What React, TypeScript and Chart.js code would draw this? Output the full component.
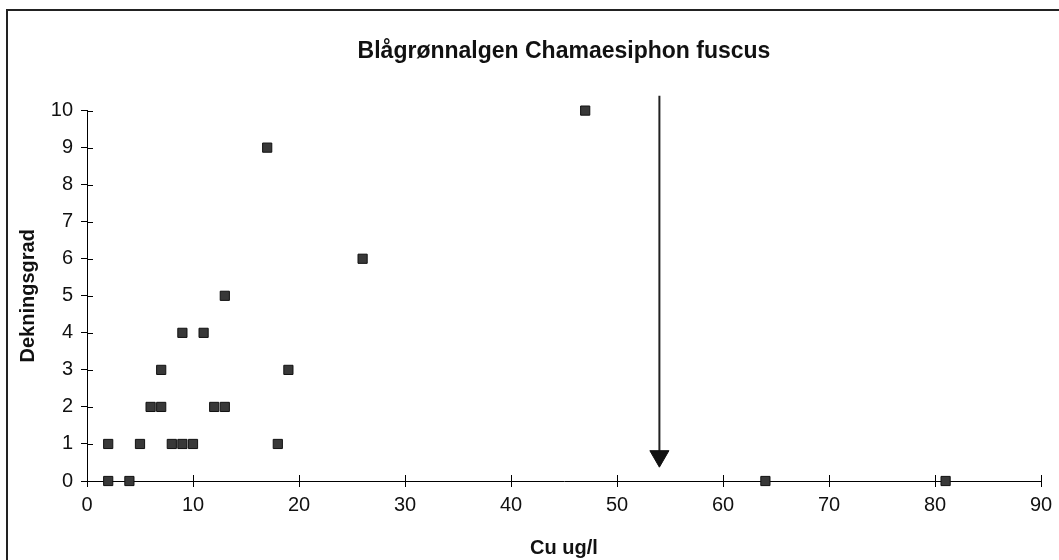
import React, { useEffect, useRef } from "react";
import { Chart, registerables } from "chart.js";

Chart.register(...registerables);

const TITLE = "Blågrønnalgen Chamaesiphon fuscus";
const X_TITLE = "Cu ug/l";
const Y_TITLE = "Dekningsgrad";

// Cu concentrations (ug/l) and coverage grade
const cuValues = [2, 4, 2, 5, 6, 7, 7, 8, 9, 10, 9, 11, 12, 13, 13, 17, 18, 19, 26, 47, 64, 81];
const coverValues = [0, 0, 1, 1, 2, 2, 3, 1, 1, 1, 4, 4, 2, 2, 5, 9, 1, 3, 6, 10, 0, 0];

// Arrow marking a threshold at Cu = 54
const arrowX = [54, 54];
const arrowY = [10.4, 0.67];

const X_MIN = 0;
const X_MAX = 90;
const X_STEP = 10;
const Y_MIN = 0;
const Y_MAX = 10;
const Y_STEP = 1;

const FONT = "'Liberation Sans', Arial, sans-serif";

const innerTicks = {
  id: "innerTicks",
  afterDatasetsDraw(chart: any) {
    const { ctx } = chart;
    const xs = chart.scales.x;
    const ys = chart.scales.y;
    ctx.save();
    ctx.strokeStyle = "#000";
    ctx.lineWidth = 1;
    ctx.beginPath();
    xs.ticks.forEach((t: any) => {
      const px = Math.round(xs.getPixelForValue(t.value)) + 0.5;
      ctx.moveTo(px, ys.bottom);
      ctx.lineTo(px, ys.bottom - 6);
    });
    ys.ticks.forEach((t: any) => {
      const py = Math.round(ys.getPixelForValue(t.value)) + 0.5;
      ctx.moveTo(xs.left, py);
      ctx.lineTo(xs.left + 6, py);
    });
    ctx.stroke();
    ctx.restore();
  },
};

export default function App() {
  const ref = useRef<HTMLCanvasElement | null>(null);

  useEffect(() => {
    document.body.style.margin = "0";
    const canvas = ref.current;
    if (!canvas) return;
    const points = cuValues.map((x, i) => ({ x, y: coverValues[i] }));
    const arrow = arrowX.map((x, i) => ({ x, y: arrowY[i] }));
    const chart = new Chart(canvas, {
      type: "scatter",
      data: {
        datasets: [
          {
            label: "Arrow",
            data: arrow,
            showLine: true,
            borderColor: "#222",
            borderWidth: 2,
            backgroundColor: "#111",
            pointStyle: "triangle",
            pointRadius: [0, 11],
            pointRotation: 180,
            pointBorderWidth: 1,
            pointBorderColor: "#111",
            clip: false as any,
          } as any,
          {
            label: "Chamaesiphon fuscus",
            data: points,
            pointStyle: "rect",
            pointRadius: 6.5,
            pointBackgroundColor: "#383838",
            pointBorderColor: "#111",
            pointBorderWidth: 1,
            clip: false as any,
          } as any,
        ],
      },
      options: {
        animation: false,
        responsive: false,
        maintainAspectRatio: false,
        layout: { padding: { left: 0, right: 18, top: 0, bottom: 0 } },
        plugins: {
          legend: { display: false },
          tooltip: { enabled: false },
          title: {
            display: true,
            text: TITLE,
            fullSize: false,
            color: "#111",
            font: { family: FONT, size: 23, weight: "bold" },
            padding: { top: 38, bottom: 45 },
          },
        },
        scales: {
          x: {
            type: "linear",
            min: X_MIN,
            max: X_MAX,
            afterFit: (s: any) => {
              s.height = 79;
            },
            ticks: {
              stepSize: X_STEP,
              color: "#111",
              padding: 6,
              font: { family: FONT, size: 20 },
              maxRotation: 0,
            },
            grid: {
              display: true,
              drawOnChartArea: false,
              drawTicks: true,
              tickLength: 6,
              color: "#000",
            },
            border: { display: true, color: "#000", width: 1 },
            title: {
              display: true,
              text: X_TITLE,
              color: "#111",
              font: { family: FONT, size: 20, weight: "bold" },
              padding: { top: 0, bottom: 0 },
            },
          },
          y: {
            type: "linear",
            min: Y_MIN,
            max: Y_MAX,
            afterFit: (s: any) => {
              s.width = 87;
            },
            ticks: {
              stepSize: Y_STEP,
              color: "#111",
              padding: 8,
              font: { family: FONT, size: 20 },
            },
            grid: {
              display: true,
              drawOnChartArea: false,
              drawTicks: true,
              tickLength: 6,
              color: "#000",
            },
            border: { display: true, color: "#000", width: 1 },
            title: {
              display: true,
              text: Y_TITLE,
              color: "#111",
              font: { family: FONT, size: 20, weight: "bold" },
              padding: { top: 16, bottom: 0 },
            },
          },
        },
      },
      plugins: [innerTicks],
    });
    return () => chart.destroy();
  }, []);

  return (
    <div style={{ position: "relative", width: 1059, height: 560, overflow: "hidden", background: "#fff" }}>
      <canvas ref={ref} width={1059} height={560} style={{ display: "block" }} />
      <div
        style={{
          position: "absolute",
          left: 6,
          top: 9,
          width: 1100,
          height: 600,
          borderLeft: "2px solid #222",
          borderTop: "2px solid #222",
          pointerEvents: "none",
        }}
      />
    </div>
  );
}
